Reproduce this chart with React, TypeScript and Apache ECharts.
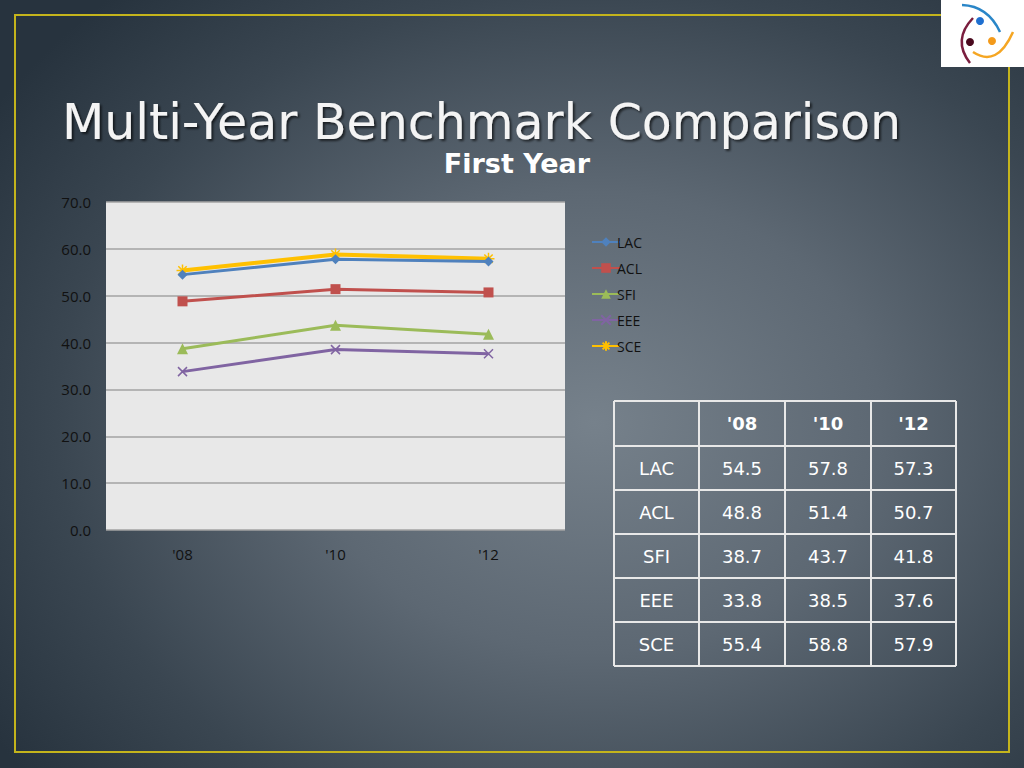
import React, { useEffect, useRef } from "react";
import * as echarts from "echarts";

const categories = ["'08", "'10", "'12"];
const seriesNames = ["LAC", "ACL", "SFI", "EEE", "SCE"];
const lacValues = [54.5, 57.8, 57.3];
const aclValues = [48.8, 51.4, 50.7];
const sfiValues = [38.7, 43.7, 41.8];
const eeeValues = [33.8, 38.5, 37.6];
const sceValues = [55.4, 58.8, 57.9];
const yTicks = { min: 0, max: 70, interval: 10 };
const seriesValues = [lacValues, aclValues, sfiValues, eeeValues, sceValues];

const colors = ["#4f81bd", "#c0504d", "#9bbb59", "#8064a2", "#ffc000"];
const XPATH = "path://M0,0L10,10M10,0L0,10";
const STARPATH = "path://M5,0L5,10M0,5L10,5M1.5,1.5L8.5,8.5M8.5,1.5L1.5,8.5";

export default function App() {
  const ref = useRef<HTMLDivElement>(null);
  useEffect(() => {
    if (!ref.current) return;
    const chart = echarts.init(ref.current, null, { renderer: "svg" });

    const symbolDefs: any[] = [
      { symbol: "diamond", size: 10, stroke: false },
      { symbol: "rect", size: 10, stroke: false },
      { symbol: "triangle", size: 11, stroke: false },
      { symbol: XPATH, size: 9, stroke: true },
      { symbol: STARPATH, size: 12, stroke: true },
    ];

    const series = seriesNames.map((name, i) => {
      const d = symbolDefs[i];
      return {
        name,
        type: "line",
        data: seriesValues[i],
        symbol: d.symbol,
        symbolSize: d.size,
        z: i === 4 ? 1 : 2,
        lineStyle: { color: colors[i], width: i === 4 ? 4 : 3 },
        itemStyle: d.stroke
          ? { color: "rgba(0,0,0,0)", borderColor: colors[i], borderWidth: 1.5 }
          : { color: colors[i], borderWidth: 0 },
      };
    });

    // table graphics
    const colX = [614, 699, 785, 871, 956];
    const rowY = [401, 446, 490, 534, 578, 622, 666];
    const tableEls: any[] = [];
    const lineStyle = { stroke: "#e8e8e8", lineWidth: 2 };
    colX.forEach((x) =>
      tableEls.push({ type: "line", shape: { x1: x, y1: rowY[0], x2: x, y2: rowY[rowY.length - 1] }, style: lineStyle })
    );
    rowY.forEach((y) =>
      tableEls.push({ type: "line", shape: { x1: colX[0], y1: y, x2: colX[colX.length - 1], y2: y }, style: lineStyle })
    );
    const cellText = (text: string, c: number, r: number, bold = false) => ({
      type: "text",
      x: (colX[c] + colX[c + 1]) / 2,
      y: (rowY[r] + rowY[r + 1]) / 2,
      style: {
        text,
        fill: "#ffffff",
        font: `${bold ? "bold " : ""}18px "DejaVu Sans", sans-serif`,
        align: "center",
        verticalAlign: "middle",
      },
    });
    categories.forEach((c, j) => tableEls.push(cellText(c, j + 1, 0, true)));
    seriesNames.forEach((n, i) => {
      tableEls.push(cellText(n, 0, i + 1));
      seriesValues[i].forEach((v, j) => tableEls.push(cellText(v.toFixed(1), j + 1, i + 1)));
    });

    chart.setOption({
      animation: false,
      backgroundColor: "transparent",
      grid: {
        left: 106,
        top: 202,
        width: 459,
        height: 328,
        show: true,
        backgroundColor: "#e8e8e8",
        borderWidth: 0,
      },
      legend: {
        orient: "vertical",
        left: 586,
        top: 230,
        itemWidth: 28,
        itemHeight: 12,
        itemGap: 12,
        data: seriesNames,
        textStyle: { color: "#111", fontSize: 14, fontFamily: "Open Sans, sans-serif", padding: [0, 0, 0, -8] },
      },
      xAxis: {
        type: "category",
        data: categories,
        boundaryGap: true,
        axisLine: { show: false },
        axisTick: { show: false },
        axisLabel: { color: "#111", fontSize: 15, margin: 16, fontFamily: "Open Sans, sans-serif" },
      },
      yAxis: {
        type: "value",
        min: yTicks.min,
        max: yTicks.max,
        interval: yTicks.interval,
        axisLine: { show: false },
        axisTick: { show: false },
        axisLabel: {
          color: "#111",
          fontSize: 15,
          margin: 15,
          fontFamily: "Open Sans, sans-serif",
          formatter: (v: number) => v.toFixed(1),
        },
        splitLine: { lineStyle: { color: "#a3a3a3", width: 1.5 } },
      },
      series,
      graphic: [
        {
          type: "rect",
          shape: { x: 15, y: 15, width: 994, height: 737 },
          style: { fill: "none", stroke: "#c4b41c", lineWidth: 2 },
          z: -1,
        },
        {
          type: "text",
          x: 62,
          y: 122,
          style: {
            text: "Multi-Year Benchmark Comparison",
            fill: "#f4f4f4",
            font: '49px "DejaVu Sans", sans-serif',
            verticalAlign: "middle",
            textShadowColor: "rgba(0,0,0,0.6)",
            textShadowOffsetX: 2,
            textShadowOffsetY: 2,
            textShadowBlur: 2,
          },
        },
        {
          type: "text",
          x: 517,
          y: 163,
          style: {
            text: "First Year",
            fill: "#ffffff",
            font: 'bold 27px "DejaVu Sans", sans-serif',
            align: "center",
            verticalAlign: "middle",
          },
        },
        // logo
        { type: "rect", shape: { x: 941, y: 0, width: 83, height: 67 }, style: { fill: "#ffffff" } },
        {
          type: "bezierCurve",
          shape: { x1: 962, y1: 5, cpx1: 988, cpy1: 6, x2: 1000, y2: 32 },
          style: { stroke: "#2a86c8", lineWidth: 2.5, fill: "none" },
        },
        {
          type: "bezierCurve",
          shape: { x1: 973, y1: 18, cpx1: 952, cpy1: 40, x2: 970, y2: 63 },
          style: { stroke: "#7a1e3e", lineWidth: 2.5, fill: "none" },
        },
        {
          type: "bezierCurve",
          shape: { x1: 973, y1: 52, cpx1: 997, cpy1: 68, x2: 1013, y2: 32 },
          style: { stroke: "#f5a623", lineWidth: 2.5, fill: "none" },
        },
        { type: "circle", shape: { cx: 980, cy: 21, r: 4 }, style: { fill: "#1e6fd0" } },
        { type: "circle", shape: { cx: 970, cy: 42, r: 4 }, style: { fill: "#4a0a1e" } },
        { type: "circle", shape: { cx: 992, cy: 41, r: 4 }, style: { fill: "#f39a1a" } },
        ...tableEls,
      ],
    });
    return () => chart.dispose();
  }, []);

  return (
    <div
      style={{
        position: "absolute",
        left: 0,
        top: 0,
        width: 1024,
        height: 768,
        background:
          "radial-gradient(ellipse 70% 75% at 58% 55%, #76818b 0%, #5d6873 40%, #3a4651 75%, #27333e 100%)",
      }}
    >
      <div ref={ref} style={{ width: 1024, height: 768 }} />
    </div>
  );
}
